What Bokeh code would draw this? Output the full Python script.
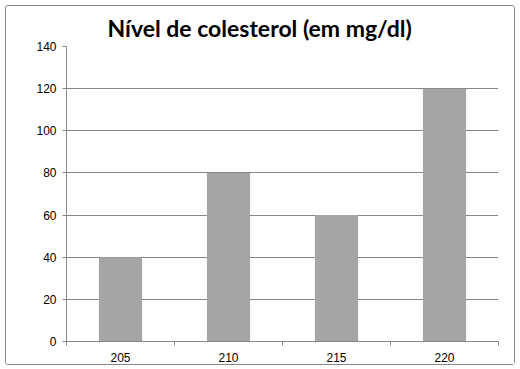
from bokeh.plotting import figure
from bokeh.models import Range1d, FixedTicker, Title
from bokeh.embed import file_html
from bokeh.resources import INLINE

categories = ["205", "210", "215", "220"]
values = [40, 80, 60, 120]
y_ticks = [0, 20, 40, 60, 80, 100, 120, 140]

centers = [i + 0.5 for i in range(len(categories))]
bounds = list(range(len(categories) + 1))

p = figure(width=510, height=360, output_backend="svg", toolbar_location=None,
           x_range=Range1d(0, len(categories)), y_range=Range1d(0, 140),
           min_border_left=60, min_border_right=18, min_border_top=39, min_border_bottom=25,
           styles={"border": "1px solid #878787", "border-radius": "3px",
                   "margin": "5px 0 0 5px"})

p.title = Title(text="Nível de colesterol (em mg/dl)", align="left", offset=41,
                text_font="Lato", text_font_style="bold", text_font_size="23px",
                text_color="#000000")

p.vbar(x=centers, top=values, width=0.4, fill_color="#a5a5a5", line_color=None)

p.outline_line_color = None
p.background_fill_color = "white"
p.border_fill_color = "white"

# x axis
xa = p.xaxis[0]
xa.ticker = FixedTicker(ticks=centers, minor_ticks=bounds)
xa.major_label_overrides = {c: lab for c, lab in zip(centers, categories)}
xa.major_tick_line_color = None
xa.minor_tick_line_color = "#868686"
xa.minor_tick_in = 0
xa.minor_tick_out = 4
xa.axis_line_color = "#868686"
xa.major_label_text_font = "Liberation Sans"
xa.major_label_text_font_size = "12px"
xa.major_label_text_color = "#000000"
xa.major_label_standoff = 5

# y axis
ya = p.yaxis[0]
ya.ticker = FixedTicker(ticks=y_ticks)
ya.minor_tick_line_color = None
ya.major_tick_line_color = "#868686"
ya.major_tick_in = 0
ya.major_tick_out = 4
ya.axis_line_color = "#868686"
ya.major_label_text_font = "Liberation Sans"
ya.major_label_text_font_size = "12px"
ya.major_label_text_color = "#000000"
ya.major_label_standoff = 6

p.xgrid.grid_line_color = None
p.ygrid.grid_line_color = "#868686"
p.ygrid.ticker = FixedTicker(ticks=y_ticks)

open("out.html", "w").write(file_html(p, INLINE))
